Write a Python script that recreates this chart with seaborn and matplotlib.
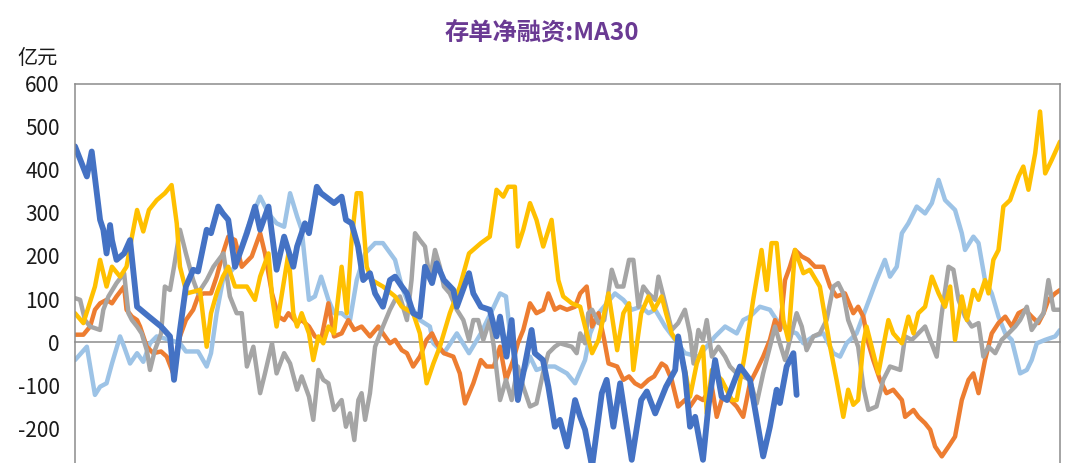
import matplotlib
matplotlib.use("Agg")
import matplotlib.pyplot as plt
import seaborn as sns
import pandas as pd

# ---- data: day of year -> 30-day MA of CD net financing, 100m CNY ----
light_blue_days = [0, 4.4, 7.4, 9.3, 11.7, 13.7, 16.7, 18.2, 20.4, 23, 25.3, 27.8, 30.3, 35.2, 38.9, 41.1, 45.6,
                   48.8, 50.4, 52.5, 54.8, 59.3, 63.7, 68.6, 71.7, 74.7, 77.5, 79.7, 82.3, 84, 86.7, 88.9, 91.2,
                   93.9, 96, 98.8, 101.9, 104.4, 107.5, 111.2, 114.1, 118.6, 121.1, 123, 127.8, 131.5, 132.8,
                   136.7, 141.5, 146, 150.4, 155.2, 157.5, 159.7, 161.2, 164.1, 166.7, 168.6, 171, 174.7, 177.8,
                   182.3, 185.3, 189, 190.9, 194, 200.1, 203.2, 206.3, 209.8, 212.5, 215, 218.7, 222.4, 226, 231,
                   237.2, 240.9, 245.2, 247.6, 250.1, 253.8, 257.5, 260, 263.7, 267.4, 269.9, 273.6, 277.3, 281,
                   283.5, 285.9, 289.6, 293.3, 297, 300.1, 302, 304.5, 306.4, 308.8, 311.9, 315, 317.5, 320,
                   322.4, 326.1, 328.6, 329.8, 332.9, 334.8, 337.2, 339.7, 342.2, 344.7, 347.1, 350.2, 352.7,
                   354.5, 356.4, 359.5, 363.2, 365]
light_blue_vals = [-42, -11, -123, -104, -96, -50, 13, -11, -50, -26, -46, -3, 13, 5, -3, -22, -22,
                   -57, -26, 67, 144, 175, 261, 338, 299, 276, 268, 346, 292, 261, 98, 106, 152,
                   98, 67, 67, 51, 144, 206, 230, 230, 191, 129, 98, 51, 36, -3,
                   -26, 20, -26, 20, 82, 113, 106, 20, -73, -65, -34, -65, -57, -57,
                   -73, -96, -42, 20, 67, 113, 98, 75, 82, 67, 75, 36, 5, -26, -34,
                   13, 36, 20, 51, 59, 82, 75, 51, 28, 20, -3, 13, 20, -26,
                   -34, -3, 20, 82, 144, 191, 152, 175, 253, 276, 315, 299, 323, 377,
                   330, 307, 253, 214, 245, 230, 144, 113, 59, 20, 5, -73, -65,
                   -42, -3, 5, 13, 28]

orange_days = [0, 3.1, 5.6, 7.4, 9.3, 11.7, 13.7, 15.4, 18.2, 19.1, 21.1, 23, 24.1, 26.6, 29, 31.9, 34, 36.4,
               38.9, 41.1, 43.8, 45.6, 47.6, 50.4, 52.5, 54.8, 56.8, 59.3, 61.8, 65.5, 68.6, 70.4, 73, 75.4,
               77.5, 79.1, 82.3, 84, 86.7, 88.9, 91.2, 93.9, 96, 98.8, 101.3, 103.5, 106.2, 109.3, 112.4,
               114.1, 116.7, 118.6, 121.1, 123, 125.3, 127.8, 130.3, 132.3, 134, 136.7, 140.2, 142.6, 144.5,
               147.6, 150.4, 152.5, 155.2, 157.5, 159.7, 162.4, 164.1, 166.1, 168.6, 171, 173.5, 175.4,
               177.8, 179.7, 182.3, 185.3, 187.2, 189.6, 191.6, 194, 196.1, 197.7, 200.9, 203.2, 205.3,
               207.5, 209.8, 212.5, 214.6, 217.4, 219, 221.1, 223.5, 226, 227.9, 230.4, 232.7, 236, 237.8,
               239.6, 241.6, 245.2, 247.6, 250.1, 252.6, 255, 257.5, 259.4, 261.2, 263.1, 264.9, 266.8,
               269.3, 271.7, 274.2, 277.3, 279.8, 282.2, 285.3, 288.4, 290.2, 292.1, 294, 295.8, 298.3,
               300.7, 303.2, 306.4, 307.6, 310.7, 312.5, 315, 316.9, 318.7, 321.2, 323.7, 326.1, 328.6,
               331.1, 332.9, 334.8, 337.2, 339.7, 342.2, 344.7, 347.1, 349.6, 352.1, 354.5, 357, 358.9,
               360.7, 363.2, 365]
orange_vals = [17, 17, 36, 75, 90, 98, 90, 106, 129, 75, 59, 51, 36, -11, -26, -22, -34, -73,
               13, 51, 75, 106, 113, 113, 152, 206, 245, 237, 175, 199, 253, 206, 113, 59,
               51, 67, 44, 51, 36, 13, 5, 90, 13, 20, 51, 28, 36, 13, 36,
               20, -3, 5, -19, -26, -57, -34, 5, 20, -3, -26, -34, -73, -143,
               -96, -42, -57, -57, -11, -88, -42, -3, 28, 90, 67, 75, 113,
               75, 82, 75, 82, 113, 129, 36, 67, 5, -50, -57, -88, -80,
               -96, -104, -88, -80, -50, -57, -88, -150, -135, -150, -127, -135, -104, -174,
               -135, -127, -150, -174, -96, -65, -34, 5, 51, 28, 144, 175, 214,
               199, 191, 175, 175, 129, 106, 113, 67, 82, 59, -3, -42, -88,
               -119, -111, -135, -174, -158, -174, -189, -204, -243, -266, -243, -220, -135,
               -88, -73, -119, -42, 20, 44, 59, 36, 67, 75, 59, 44, 67,
               98, 113, 121]

gray_days = [0, 1.9, 3.7, 5.6, 9.3, 10.5, 12.4, 15.4, 18.2, 19.8, 21.1, 23, 24.7, 26.6, 27.8, 29.6, 31.9, 33.3,
             35.2, 36.7, 38.9, 41.1, 43.8, 45.6, 48.8, 51.3, 55, 57.4, 59.9, 61.8, 63.7, 66.1, 68.6, 70.4, 73,
             74.7, 77.5, 79.7, 82.3, 84, 86.7, 88.3, 90.2, 92, 93.9, 96, 98.8, 100.4, 101.9, 103.5, 105,
             106.2, 107.5, 109.3, 111.2, 114.1, 116.7, 118.6, 120.4, 123, 124.7, 126, 127.8, 129.7, 131.5,
             133.4, 135.2, 136.7, 138.9, 141.5, 143.9, 146, 147.6, 149.4, 151.3, 153.7, 155.2, 157.5, 159.7,
             161.8, 164.1, 166.1, 168.6, 171, 173.4, 175.4, 177.8, 179.7, 184.1, 185.9, 187.2, 189, 190.2,
             191.6, 194, 196.1, 198.9, 200.9, 203.2, 205.3, 206.9, 208.8, 210.6, 212.5, 215, 216.2, 219,
             221.1, 223.5, 226, 227.9, 229.2, 231, 232.7, 234.1, 236, 238.4, 240.9, 242.7, 245.2, 250.1,
             252.6, 255, 257.5, 259.4, 261.2, 263.1, 264.9, 267.4, 269.3, 271.1, 273.6, 276, 278.5, 281,
             282.8, 284.7, 286.5, 288.4, 290.2, 292.1, 294, 297, 299.5, 302, 305.8, 307.6, 310.1, 312.5,
             315, 316.9, 319.3, 321.2, 323.7, 325.5, 327.4, 329.8, 332.3, 334.8, 336.6, 338.5, 341, 343.4,
             345.9, 348.4, 350.2, 352.7, 354.5, 357, 358.9, 360.7, 362.6, 365]
gray_vals = [102, 98, 51, 36, 28, 75, 106, 137, 160, 67, 51, 36, 20, -19, -65, -19, 20, 129,
             121, 175, 261, 206, 144, 113, 144, 175, 206, 106, 67, 67, -57, -11, -119, -73, -3,
             -73, -26, -50, -111, -80, -127, -181, -65, -88, -96, -158, -135, -197, -166, -228, -135,
             -119, -181, -119, -11, 36, 75, 98, 106, 51, 144, 253, 237, 222, 144,
             214, 175, 129, 113, 75, 51, 5, 51, 51, 5, 51, -11, -135, -88,
             -135, -57, -104, -150, -143, -73, -26, -11, -3, -11, -26, 20, -3, 67,
             75, 44, 51, 168, 129, 129, 191, 191, 82, 129, 113, 98, 152, 82,
             28, 44, 75, 20, -50, 28, 5, 51, -34, -11, -34, -57, -73, -88,
             -143, -73, -11, 36, -3, -42, 5, 67, 36, -19, 13, 20, 51, 129,
             137, 113, 51, 20, -11, -104, -158, -150, -88, -57, -65, 13, 5, 20,
             36, 5, -34, 67, 175, 168, 98, 59, 36, 44, -34, -11, -26, 5,
             20, 36, 51, 82, 28, 51, 67, 144, 75, 75]

yellow_days = [0, 3.1, 7.4, 9.3, 11.7, 13.7, 16.7, 19.1, 21.1, 23, 25.3, 27.4, 30.3, 33.3, 35.8, 37.7, 38.9,
               41.4, 46.3, 48.8, 50.4, 52.5, 54.8, 56.8, 59.3, 63.7, 66.7, 68.6, 71.7, 73, 74.7, 77.5, 79.1,
               80.9, 82.3, 84, 86.7, 88.3, 90.2, 92, 93.9, 96, 98.8, 100.7, 102.5, 104.4, 106, 108.1, 110,
               114.1, 118.6, 121.1, 125.3, 127.8, 130.3, 132.8, 135.2, 138.9, 142.6, 146, 150.4, 153.7,
               156.2, 158.7, 160.5, 163, 164.1, 166.1, 168.6, 171, 173.5, 176.6, 179.1, 180.9, 184.1, 187.2,
               189, 191.6, 194, 196.1, 197.7, 200.9, 203.2, 205.3, 206.9, 209.8, 212.5, 214.6, 217.4, 219,
               221.1, 223.5, 226, 227.9, 230.4, 232.7, 234.1, 236, 239.6, 243.4, 245.2, 248.3, 251.3, 254.4,
               256.3, 258.1, 260, 262.5, 264.3, 266.8, 269.9, 272.3, 276, 279.8, 282.2, 284.7, 286.5, 288.4,
               290.2, 292.1, 293.3, 295.8, 297.7, 299.5, 301.4, 303.2, 306.4, 308.8, 310.7, 312.5, 315,
               317.5, 320, 322.4, 324.3, 326.1, 328.6, 330.5, 332.9, 334.8, 337.2, 338.5, 340.3, 342.2, 344,
               346.5, 349.6, 351.4, 353.3, 355.8, 357.6, 359.5, 361.9, 365]
yellow_vals = [67, 44, 129, 191, 129, 175, 152, 175, 245, 307, 257, 307, 330, 346, 365, 276, 175,
               113, 121, -11, 67, 113, 152, 175, 129, 129, 98, 152, 206, 106, 36, 144, 206,
               67, 36, 67, 20, -42, 13, -3, 36, 20, 175, 67, 237, 346, 346, 175, 144,
               129, 106, 82, 67, 20, -96, -50, -11, 67, 129, 206, 230, 245,
               354, 338, 361, 361, 222, 261, 323, 284, 222, 284, 144, 106, 90, 82,
               36, -26, 5, 67, 113, -19, 67, 90, -65, 67, 106, 75, 106, 67,
               20, -3, -65, -127, -50, -11, -166, -65, -88, -135, -135, -26, 98, 214,
               121, 230, 230, 51, 5, 214, 160, 168, 129, -11, -88, -174, -111, -146,
               -135, -3, 36, -26, -73, -11, 51, 20, -3, 59, 20, 67, 82,
               152, 113, 82, 129, 5, 106, 51, 121, 98, 144, 113, 191, 214, 315,
               330, 385, 408, 354, 439, 536, 392, 423, 466]

dark_blue_days = [0, 4.4, 6.2, 9.3, 10.5, 11.7, 13, 13.7, 15.4, 18.2, 20.4, 23, 27.4, 31.9, 35.2, 36.7, 38.9,
                  41.1, 43.8, 45.6, 48.8, 50.4, 53.1, 54.8, 56.8, 59.3, 63.7, 66.7, 68.6, 71.7, 74.7, 77.5,
                  80.9, 82.3, 85.2, 86.7, 89.6, 91.2, 96, 98.8, 100.4, 102.5, 104.9, 106.8, 109.3, 111.2, 114.1,
                  116.7, 118.6, 121.1, 123, 125.3, 127.8, 129.7, 132.3, 134, 136.7, 140.2, 141.5, 146, 147.6,
                  150.4, 153.7, 156.2, 157.5, 159.9, 161.8, 164.1, 166.1, 169.2, 170.4, 173.4, 175.4, 177.8,
                  179.7, 182.3, 185.3, 187.2, 189, 191.6, 195.2, 197, 199.5, 202, 206.3, 209.8, 211.9, 215,
                  219, 222.4, 223.5, 226, 227.9, 229.8, 232.7, 234.7, 237.2, 239.6, 241.6, 246.4, 250.1, 255,
                  257.5, 260, 261.2, 263.7, 266.2, 267.4]
dark_blue_vals = [455, 385, 443, 284, 261, 206, 272, 237, 191, 206, 237, 82, 59, 36, 13, -88, 28,
                  129, 168, 164, 261, 253, 315, 299, 284, 175, 253, 315, 261, 315, 168, 245,
                  175, 222, 276, 253, 361, 346, 323, 338, 284, 276, 222, 144, 160, 113, 82,
                  144, 152, 129, 113, 67, 59, 175, 137, 183, 144, 121, 82, 160, 113,
                  82, 75, 13, 59, -34, 51, -135, -73, 28, -26, -42, -104, -197,
                  -181, -243, -135, -174, -204, -290, -119, -88, -197, -96, -274, -135, -115, -166,
                  -104, -65, 13, -73, -197, -174, -274, -150, -42, -127, -135, -57, -88, -266,
                  -197, -111, -142, -57, -26, -123]

# draw order: first listed sits at the bottom
series = [
    ("light_blue", light_blue_days, light_blue_vals, "#9DC3E6", 3.2),
    ("orange", orange_days, orange_vals, "#ED7D31", 3.2),
    ("gray", gray_days, gray_vals, "#A5A5A5", 3.2),
    ("yellow", yellow_days, yellow_vals, "#FFC000", 3.2),
    ("dark_blue", dark_blue_days, dark_blue_vals, "#4472C4", 4.2),
]
month_starts = [31, 59, 90, 120, 151, 181, 212, 243, 273, 304, 334]
y_ticks = [600, 500, 400, 300, 200, 100, 0, -100, -200]

sns.set_style("white")
plt.rcParams["font.family"] = ["Noto Sans CJK SC", "DejaVu Sans"]

fig = plt.figure(figsize=(10.9, 4.63), dpi=100)
# axis runs down to -300; the picture is cut off a little above that
ax = fig.add_axes([0.0688, -0.0173, 0.9037, 0.8359])

for name, days, vals, color, lw in series:
    df = pd.DataFrame({"day": days, "value": vals})
    sns.lineplot(data=df, x="day", y="value", ax=ax, color=color, linewidth=lw,
                 estimator=None, sort=False, legend=False)

ax.set_xlim(0, 365)
ax.set_ylim(-300, 600)
ax.set_xlabel("")
ax.set_ylabel("")

spine_col = "#8C8C8C"
for s in ["top", "right", "left"]:
    ax.spines[s].set_visible(True)
    ax.spines[s].set_color(spine_col)
    ax.spines[s].set_linewidth(1.1)
# the category axis sits on the zero line
ax.spines["bottom"].set_position(("data", 0))
ax.spines["bottom"].set_color(spine_col)
ax.spines["bottom"].set_linewidth(1.1)
ax.spines["bottom"].set_zorder(1)

ax.set_xticks(month_starts)
ax.set_xticklabels([])
ax.tick_params(axis="x", direction="out", length=4, width=1.1, color=spine_col)
ax.set_yticks(y_ticks)
ax.set_yticklabels([str(v) for v in y_ticks])
ax.tick_params(axis="y", direction="out", length=7, width=1.1, color=spine_col,
               labelsize=15, labelcolor="#1A1A1A", pad=4)

fig.text(0.016, 0.874, "亿元", fontsize=14.5, color="#1A1A1A", ha="left", va="center")
fig.text(0.497, 0.929, "存单净融资:MA30", fontsize=17.5, fontweight="bold",
         color="#6A3A93", ha="center", va="center")

fig.savefig("out.png", dpi=100)
